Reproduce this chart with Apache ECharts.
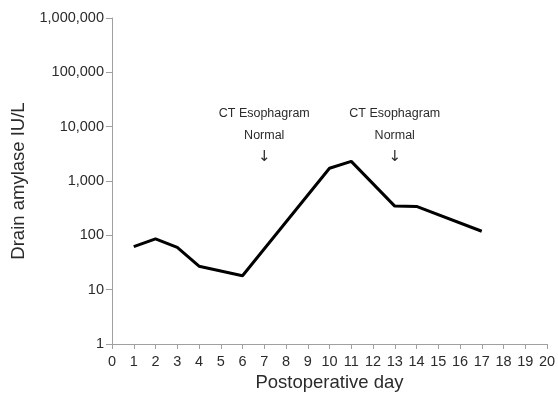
<!DOCTYPE html>
<html>
<head>
<meta charset="utf-8">
<script src="https://cdn.jsdelivr.net/npm/echarts@6/dist/echarts.min.js"></script>
<style>
  html, body { margin: 0; padding: 0; background: #fff; }
  #chart { width: 558px; height: 393px; }
</style>
</head>
<body>
<div id="chart"></div>
<script>
// Drain amylase by postoperative day
const days = [1, 2, 3, 4, 6, 10, 11, 13, 14, 17]
const amylase = [62, 86, 60, 27, 18, 1720, 2300, 345, 340, 119]

// CT esophagram annotations
const noteDays = [7, 13]
const noteLevel = 6900
const noteLines = ['CT Esophagram', 'Normal', '↓']

const font = '"Liberation Sans", Arial, Helvetica, sans-serif'
const axisColor = '#a0a0a0'
const textColor = '#2b2b2b'

const chart = echarts.init(document.getElementById('chart'))

chart.setOption({
  animation: false,
  backgroundColor: '#fff',
  textStyle: { fontFamily: font },
  // keep the plot box fixed, labels may sit outside it
  grid: { left: 112, right: 11, top: 18, bottom: 49, outerBoundsMode: 'none', containLabel: false },
  xAxis: {
    type: 'value',
    min: 0,
    max: 20,
    interval: 1,
    name: 'Postoperative day',
    nameLocation: 'middle',
    nameGap: 29,
    nameMoveOverlap: false,
    nameTextStyle: { color: textColor, fontSize: 18.5, fontFamily: font },
    axisLine: { show: true, lineStyle: { color: axisColor, width: 1 } },
    axisTick: { show: true, length: 5, lineStyle: { color: axisColor } },
    axisLabel: { color: textColor, fontSize: 14.5, fontFamily: font, margin: 10 },
    splitLine: { show: false },
  },
  yAxis: {
    type: 'log',
    logBase: 10,
    min: 1,
    max: 1000000,
    name: 'Drain amylase IU/L',
    nameLocation: 'middle',
    nameGap: 84,
    nameMoveOverlap: false,
    nameTextStyle: { color: textColor, fontSize: 18.5, fontFamily: font },
    axisLine: { show: true, lineStyle: { color: axisColor, width: 1 } },
    axisTick: { show: true, length: 6, lineStyle: { color: axisColor } },
    axisLabel: {
      color: textColor,
      fontSize: 14.5,
      fontFamily: font,
      margin: 8,
      formatter: (v) => Math.round(v).toLocaleString('en-US'),
    },
    splitLine: { show: false },
  },
  series: [
    {
      type: 'line',
      data: days.map((d, i) => [d, amylase[i]]),
      showSymbol: false,
      lineStyle: { color: '#000', width: 3 },
      markPoint: {
        symbol: 'circle',
        symbolSize: 0,
        silent: true,
        label: {
          show: true,
          position: 'inside',
          formatter: noteLines[0] + '\n' + noteLines[1] + '\n{arrow|' + noteLines[2] + '}',
          color: textColor,
          fontSize: 12.5,
          lineHeight: 22,
          fontFamily: font,
          rich: {
            arrow: { fontSize: 15, lineHeight: 22, color: textColor, fontFamily: '"DejaVu Sans", sans-serif' },
          },
        },
        data: noteDays.map((d) => ({ coord: [d, noteLevel] })),
      },
    },
  ],
})
</script>
</body>
</html>
